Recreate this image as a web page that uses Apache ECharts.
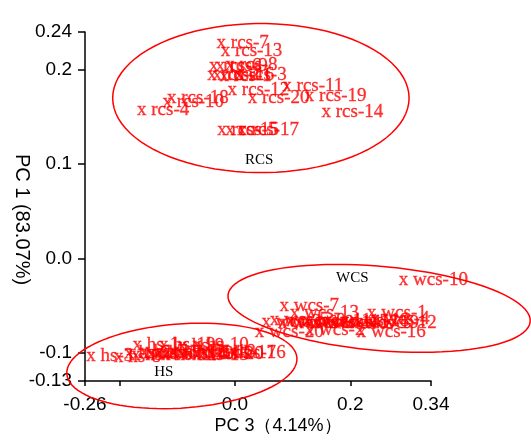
<!DOCTYPE html>
<html>
<head>
<meta charset="utf-8">
<script src="https://cdn.jsdelivr.net/npm/echarts@6/dist/echarts.min.js"></script>
<style>
html,body{margin:0;padding:0;background:#fff;}
#chart{width:531px;height:441px;}
</style>
</head>
<body>
<div id="chart"></div>
<script>
// tick values / labels
var xTicks = [-0.26, -0.2, 0, 0.2, 0.34];
var xLabels = [-0.26, 0, 0.2, 0.34];
var yTicks = [0.24, 0.2, 0.1, 0, -0.1, -0.13];

// RCS samples (PC 3, PC 1)
var rcsNames = ['rcs-7','rcs-13','rcs-6','rcs-9','rcs-8','rcs-2','rcs-16','rcs-1','rcs-3','rcs-12','rcs-11','rcs-19','rcs-20','rcs-18','rcs-10','rcs-4','rcs-14','rcs-15','rcs-5','rcs-17'];
var rcsPc3 = [-0.024,-0.017,-0.037,-0.026,-0.009,-0.040,-0.031,-0.019,0.007,-0.005,0.090,0.129,0.030,-0.110,-0.118,-0.162,0.158,-0.023,-0.009,0.012];
var rcsPc1 = [0.228,0.220,0.204,0.204,0.205,0.194,0.194,0.193,0.194,0.179,0.183,0.172,0.170,0.170,0.166,0.157,0.155,0.136,0.136,0.136];

// WCS samples
var wcsNames = ['wcs-10','wcs-7','wcs-13','wcs-1','wcs-20','wcs-16','wcs-2','wcs-3','wcs-5','wcs-6','wcs-8','wcs-9','wcs-11','wcs-14','wcs-15','wcs-17','wcs-18','wcs-19','wcs-4','wcs-12'];
var wcsPc3 = [0.292,0.085,0.103,0.237,0.042,0.219,0.129,0.054,0.068,0.082,0.096,0.111,0.125,0.141,0.155,0.172,0.190,0.207,0.242,0.238];
var wcsPc1 = [-0.023,-0.050,-0.058,-0.058,-0.078,-0.078,-0.076,-0.067,-0.065,-0.069,-0.066,-0.068,-0.066,-0.069,-0.067,-0.068,-0.066,-0.069,-0.064,-0.069];

// HS samples
var hsNames = ['hs-3','hs-8','hs-1','hs-19','hs-9','hs-10','hs-2','hs-4','hs-5','hs-6','hs-7','hs-11','hs-12','hs-13','hs-14','hs-15','hs-18','hs-20','hs-17','hs-16'];
var hsPc3 = [-0.250,-0.202,-0.170,-0.124,-0.092,-0.066,-0.184,-0.172,-0.158,-0.146,-0.132,-0.120,-0.106,-0.092,-0.080,-0.066,-0.054,-0.040,-0.019,-0.002];
var hsPc1 = [-0.103,-0.105,-0.092,-0.092,-0.093,-0.092,-0.100,-0.102,-0.099,-0.101,-0.100,-0.102,-0.099,-0.101,-0.100,-0.102,-0.099,-0.101,-0.100,-0.100];

// group ellipses (centre, radii in data units, tilt in degrees) and group labels
var groupNames = ['RCS','WCS','HS'];
var ellCx = [0.045, 0.250, -0.092];
var ellCy = [0.170, -0.053, -0.114];
var ellRx = [0.257, 0.263, 0.200];
var ellRy = [0.079, 0.0446, 0.0446];
var ellRot = [0, 5, -4];
var nameX = [0.042, 0.2035, -0.1235];
var nameY = [0.104, -0.021, -0.120];

function fmt(v){
    if (v === 0) return '0.0';
    return String(v);
}

function pts(names, xs, ys){
    var out = [];
    for (var i = 0; i < names.length; i++) {
        out.push({name: names[i], value: [xs[i], ys[i]]});
    }
    return out;
}

var ellData = [];
for (var i = 0; i < groupNames.length; i++) {
    ellData.push([ellCx[i], ellCy[i], ellRx[i], ellRy[i], ellRot[i], nameX[i], nameY[i]]);
}

var labelStyle = {
    show: true,
    position: 'right',
    distance: 0,
    offset: [-5, 0],
    color: '#ff0000',
    textBorderColor: '#ff0000',
    textBorderWidth: 0.3,
    fontFamily: '"Liberation Serif", "Times New Roman", serif',
    fontSize: 19,
    formatter: function(p){ return 'x ' + p.name; }
};

function scatter(data){
    return {
        type: 'scatter',
        symbolSize: 1,
        itemStyle: {color: 'rgba(0,0,0,0)'},
        label: labelStyle,
        data: data
    };
}

var chart = echarts.init(document.getElementById('chart'));
var option = {
    animation: false,
    backgroundColor: '#fff',
    grid: {left: 85, top: 32, right: 100, bottom: 60, containLabel: false, outerBoundsMode: 'none'},
    xAxis: {
        type: 'value',
        min: -0.26,
        max: 0.34,
        name: 'PC 3（4.14%）',
        nameLocation: 'middle',
        nameGap: 36,
        nameMoveOverlap: false,
        nameTextStyle: {color: '#000', fontSize: 18, fontFamily: '"Liberation Sans", Arial, sans-serif', padding: [0, 0, 0, 40]},
        splitLine: {show: false},
        axisLine: {show: true, onZero: false, lineStyle: {color: '#000', width: 1.5}},
        axisTick: {show: true, customValues: xTicks, length: 5, lineStyle: {color: '#000', width: 1.5}},
        axisLabel: {customValues: xLabels, color: '#000', fontSize: 19, margin: 14, fontFamily: '"Liberation Sans", Arial, sans-serif', formatter: fmt}
    },
    yAxis: {
        type: 'value',
        min: -0.13,
        max: 0.24,
        name: 'PC 1 (83.07%)',
        nameLocation: 'middle',
        nameRotate: -90,
        nameGap: 53,
        nameMoveOverlap: false,
        nameTextStyle: {color: '#000', fontSize: 20, fontFamily: '"Liberation Sans", Arial, sans-serif', padding: [0, 0, 0, 26]},
        splitLine: {show: false},
        axisLine: {show: true, onZero: false, lineStyle: {color: '#000', width: 1.5}},
        axisTick: {show: true, customValues: yTicks, length: 7, lineStyle: {color: '#000', width: 1.5}},
        axisLabel: {customValues: yTicks, color: '#000', fontSize: 19, margin: 13, fontFamily: '"Liberation Sans", Arial, sans-serif', formatter: fmt}
    },
    series: [
        {
            type: 'custom',
            clip: false,
            silent: true,
            z: 1,
            data: ellData,
            renderItem: function(params, api) {
                var k = params.dataIndex;
                var c = api.coord([api.value(0), api.value(1)]);
                var s = api.size([api.value(2), api.value(3)]);
                var r = api.value(4) * Math.PI / 180;
                var points = [];
                for (var j = 0; j <= 90; j++) {
                    var t = j / 90 * Math.PI * 2;
                    var ex = s[0] * Math.cos(t), ey = s[1] * Math.sin(t);
                    points.push([c[0] + ex * Math.cos(r) - ey * Math.sin(r), c[1] + ex * Math.sin(r) + ey * Math.cos(r)]);
                }
                var tp = api.coord([api.value(5), api.value(6)]);
                return {
                    type: 'group',
                    children: [
                        {type: 'polygon', shape: {points: points}, style: {fill: 'none', stroke: '#ff0000', lineWidth: 1.5}},
                        {type: 'text', x: tp[0], y: tp[1], style: {text: groupNames[k], fill: '#000', fontSize: 15, fontFamily: '"Liberation Serif", "Times New Roman", serif', align: 'center', verticalAlign: 'middle'}}
                    ]
                };
            }
        },
        scatter(pts(rcsNames, rcsPc3, rcsPc1)),
        scatter(pts(wcsNames, wcsPc3, wcsPc1)),
        scatter(pts(hsNames, hsPc3, hsPc1))
    ]
};
chart.setOption(option);
</script>
</body>
</html>
